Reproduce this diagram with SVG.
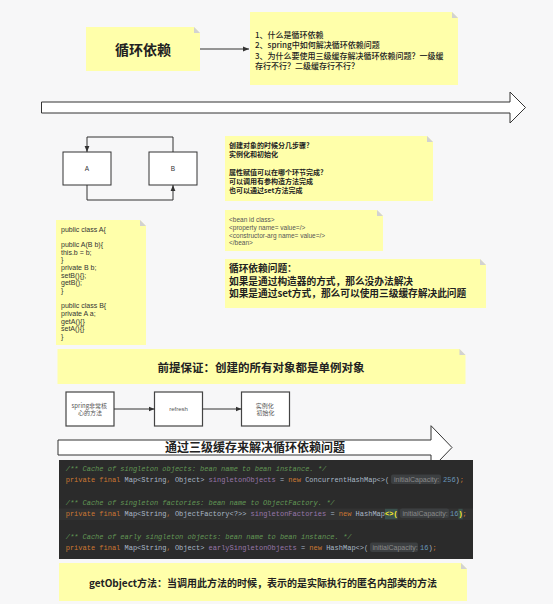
<svg xmlns="http://www.w3.org/2000/svg" width="553" height="604" viewBox="0 0 553 604">
<defs>
<marker id="ah" viewBox="0 0 10 10" refX="10" refY="5" markerWidth="6" markerHeight="6" orient="auto" markerUnits="userSpaceOnUse">
<path d="M0,1 L10,5 L0,9 z" fill="#333"/>
</marker>
<style>
.note{fill:#ffffaa}
.fold{fill:#d2d2d2}
.box{fill:#fff;stroke:#333;stroke-width:1}
.cjk{font-family:"Noto Sans CJK SC","Noto Sans",sans-serif}
.lat{font-family:"Liberation Sans",Arial,sans-serif}
.mono{font-family:"Liberation Mono","DejaVu Sans Mono",monospace;font-size:7px}
.big{fill:#fff;stroke:#333;stroke-width:1}
.conn{fill:none;stroke:#333;stroke-width:1}
.cm{fill:#629755;font-style:italic}
.kw{fill:#cc7832}
.tx{fill:#a9b7c6}
.fd{fill:#9876aa}
.nm{fill:#6897bb}
.hl{fill:#ffef28;font-weight:bold}
.hintbg{fill:#3c3f41}
.hint{fill:#8a8a8a;font-family:"Liberation Sans",Arial,sans-serif;font-size:7px}
</style>
</defs>
<rect width="553" height="604" fill="#f7f7f8"/>

<g id="bigarrow1">
<polygon class="big" points="41.5,102 510,102 510,92 525.5,107.5 510,123 510,113 41.5,113"/>
</g>

<g id="title">
<polygon class="note" points="86,27 194,27 200,33 200,71 86,71"/>
<polygon class="fold" points="194,27 200,33 194,33"/>
<text class="cjk" x="143" y="55" font-size="14" font-weight="bold" fill="#222" text-anchor="middle">循环依赖</text>
</g>

<g id="questions">
<polygon class="note" points="250,12 452,12 458,18 458,85 250,85"/>
<polygon class="fold" points="452,12 458,18 452,18"/>
<text class="cjk" font-size="8" font-weight="500" fill="#222">
<tspan x="255" y="37.5">1、什么是循环依赖</tspan>
<tspan x="255" y="48">2、spring中如何解决循环依赖问题</tspan>
<tspan x="255" y="58.5">3、为什么要使用三级缓存解决循环依赖问题？一级缓</tspan>
<tspan x="255" y="69">存行不行？二级缓存行不行？</tspan>
</text>
</g>

<g id="nodeA">
<rect class="box" x="63" y="152" width="48" height="33"/>
<text class="lat" x="87" y="170.5" font-size="6.5" fill="#333" text-anchor="middle">A</text>
</g>
<g id="nodeB">
<rect class="box" x="149" y="152" width="48" height="33"/>
<text class="lat" x="173" y="170.5" font-size="6.5" fill="#333" text-anchor="middle">B</text>
</g>

<g id="codeNote">
<polygon class="note" points="56,220 140,220 146,226 146,345 56,345"/>
<polygon class="fold" points="140,220 146,226 140,226"/>
<text class="lat" font-size="7" fill="#333">
<tspan x="61" y="231.5">public class A{</tspan>
<tspan x="61" y="246.8">public A(B b){</tspan>
<tspan x="61" y="254.5">this.b = b;</tspan>
<tspan x="61" y="262.2">}</tspan>
<tspan x="61" y="269.8">private B b;</tspan>
<tspan x="61" y="277.5">setB(){};</tspan>
<tspan x="61" y="285.2">getB();</tspan>
<tspan x="61" y="292.8">}</tspan>
<tspan x="61" y="308.2">public class B{</tspan>
<tspan x="61" y="315.8">private A a;</tspan>
<tspan x="61" y="323.5">getA(){}</tspan>
<tspan x="61" y="331.2">setA(){}</tspan>
<tspan x="61" y="338.8">}</tspan>
</text>
</g>

<g id="stepsNote">
<polygon class="note" points="225,136 427,136 433,142 433,201 225,201"/>
<polygon class="fold" points="427,136 433,142 427,142"/>
<text class="cjk" font-size="7" font-weight="bold" fill="#222">
<tspan x="229" y="147.5">创建对象的时候分几步骤?</tspan>
<tspan x="229" y="156.8">实例化和初始化</tspan>
<tspan x="229" y="174.5">属性赋值可以在哪个环节完成?</tspan>
<tspan x="229" y="184">可以调用有参构造方法完成</tspan>
<tspan x="229" y="193">也可以通过set方法完成</tspan>
</text>
</g>

<g id="beanNote">
<polygon class="note" points="225,210 377,210 383,216 383,251 225,251"/>
<polygon class="fold" points="377,210 383,216 377,216"/>
<text class="lat" font-size="6.5" fill="#555">
<tspan x="229" y="221.8">&lt;bean id class&gt;</tspan>
<tspan x="229" y="229.8">&lt;property name= value=/&gt;</tspan>
<tspan x="229" y="237.8">&lt;constructor-arg name= value=/&gt;</tspan>
<tspan x="229" y="245.3">&lt;/bean&gt;</tspan>
</text>
</g>

<g id="problemNote">
<polygon class="note" points="225,259 480,259 486,265 486,308 225,308"/>
<polygon class="fold" points="480,259 486,265 480,265"/>
<text class="cjk" font-size="9.7" font-weight="bold" fill="#222">
<tspan x="229" y="272">循环依赖问题：</tspan>
<tspan x="229" y="284.5">如果是通过构造器的方式，那么没办法解决</tspan>
<tspan x="229" y="297">如果是通过set方式，那么可以使用三级缓存解决此问题</tspan>
</text>
</g>

<g id="premise">
<polygon class="note" points="57.5,349 459.5,349 465.5,355 465.5,384 57.5,384"/>
<polygon class="fold" points="459.5,349 465.5,355 459.5,355"/>
<text class="cjk" x="261" y="371.8" font-size="11.5" font-weight="bold" fill="#222" text-anchor="middle">前提保证：创建的所有对象都是单例对象</text>
</g>

<g id="flow1">
<rect x="66" y="392" width="48" height="34" fill="#fff" stroke="#444" stroke-width="1.2"/>
<text class="cjk" font-size="6" fill="#555" text-anchor="middle">
<tspan x="90" y="407.8">spring非常核</tspan>
<tspan x="90" y="415.3">心的方法</tspan>
</text>
</g>
<g id="flow2">
<rect x="154.5" y="392" width="48" height="34" fill="#fff" stroke="#444" stroke-width="1.2"/>
<text class="lat" x="178.5" y="411.3" font-size="6" fill="#555" text-anchor="middle">refresh</text>
</g>
<g id="flow3">
<rect x="241.5" y="392" width="48" height="34" fill="#fff" stroke="#444" stroke-width="1.2"/>
<text class="cjk" font-size="6" fill="#555" text-anchor="middle">
<tspan x="265.5" y="407.8">实例化</tspan>
<tspan x="265.5" y="415.3">初始化</tspan>
</text>
</g>

<g id="connectors">
<line class="conn" x1="200" y1="49" x2="249" y2="49" marker-end="url(#ah)"/>
<path class="conn" d="M173,152 V137 H87 V152" marker-end="url(#ah)"/>
<path class="conn" d="M87,185 V200 H173 V185" marker-end="url(#ah)"/>
<line class="conn" x1="114" y1="409" x2="154.5" y2="409" marker-end="url(#ah)"/>
<line class="conn" x1="202.5" y1="409" x2="241.5" y2="409" marker-end="url(#ah)"/>
</g>

<g id="bigarrow2">
<polygon class="big" points="58,440 431,440 431,425.7 452,447.5 431,469.3 431,455 58,455"/>
<text class="cjk" x="255" y="452.3" font-size="12" font-weight="bold" fill="#222" text-anchor="middle">通过三级缓存来解决循环依赖问题</text>
</g>

<g id="codeImage">
<rect x="59" y="460" width="414" height="99" fill="#2b2b2b"/>
<rect x="59" y="508.5" width="414" height="11.5" fill="#323232"/>
<text class="mono" xml:space="preserve" x="65.7" y="470.5"><tspan class="cm">/** Cache of singleton objects: bean name to bean instance. */</tspan></text>
<text class="mono" xml:space="preserve" x="65.7" y="481.5"><tspan class="kw">private final </tspan><tspan class="tx">Map&lt;String</tspan><tspan class="kw">, </tspan><tspan class="tx">Object&gt; </tspan><tspan class="fd">singletonObjects </tspan><tspan class="tx">= </tspan><tspan class="kw">new </tspan><tspan class="tx">ConcurrentHashMap&lt;&gt;(</tspan></text>
<rect class="hintbg" x="391" y="474.5" width="50" height="9.5" rx="2"/>
<text class="hint" x="394" y="481.5">initialCapacity:</text>
<text class="mono" xml:space="preserve" x="443" y="481.5"><tspan class="nm">256</tspan><tspan class="tx">)</tspan><tspan class="kw">;</tspan></text>

<text class="mono" xml:space="preserve" x="65.7" y="504.5"><tspan class="cm">/** Cache of singleton factories: bean name to ObjectFactory. */</tspan></text>
<rect x="385" y="508.8" width="12.6" height="10.5" fill="#3b514d"/>
<rect x="458.4" y="508.8" width="4.2" height="10.5" fill="#3b514d"/>
<text class="mono" xml:space="preserve" x="65.7" y="515.5"><tspan class="kw">private final </tspan><tspan class="tx">Map&lt;String</tspan><tspan class="kw">, </tspan><tspan class="tx">ObjectFactory&lt;?&gt;&gt; </tspan><tspan class="fd">singletonFactories </tspan><tspan class="tx">= </tspan><tspan class="kw">new </tspan><tspan class="tx">HashMap</tspan><tspan class="hl">&lt;&gt;(</tspan></text>
<rect class="hintbg" x="400" y="508.5" width="49" height="9.5" rx="2"/>
<text class="hint" x="402.5" y="515.5">initialCapacity:</text>
<text class="mono" xml:space="preserve" x="450" y="515.5"><tspan class="nm">16</tspan><tspan class="hl">)</tspan><tspan class="kw">;</tspan></text>

<text class="mono" xml:space="preserve" x="65.7" y="538.5"><tspan class="cm">/** Cache of early singleton objects: bean name to bean instance. */</tspan></text>
<text class="mono" xml:space="preserve" x="65.7" y="549.5"><tspan class="kw">private final </tspan><tspan class="tx">Map&lt;String</tspan><tspan class="kw">, </tspan><tspan class="tx">Object&gt; </tspan><tspan class="fd">earlySingletonObjects </tspan><tspan class="tx">= </tspan><tspan class="kw">new </tspan><tspan class="tx">HashMap&lt;&gt;(</tspan></text>
<rect class="hintbg" x="370" y="542.5" width="48" height="9.5" rx="2"/>
<text class="hint" x="372.5" y="549.5">initialCapacity:</text>
<text class="mono" xml:space="preserve" x="420" y="549.5"><tspan class="nm">16</tspan><tspan class="tx">)</tspan><tspan class="kw">;</tspan></text>
</g>

<g id="getObjectNote">
<polygon class="note" points="59,563 461,563 467,569 467,601 59,601"/>
<polygon class="fold" points="461,563 467,569 461,569"/>
<text class="cjk" x="263" y="586.5" font-size="10" font-weight="bold" fill="#222" text-anchor="middle">getObject方法：当调用此方法的时候，表示的是实际执行的匿名内部类的方法</text>
</g>
</svg>
